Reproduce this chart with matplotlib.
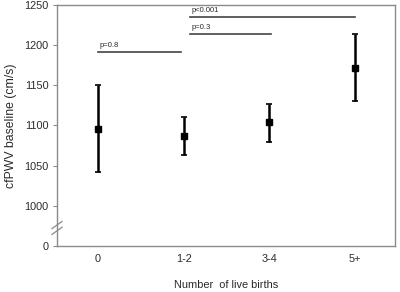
import numpy as np
import matplotlib
matplotlib.use('Agg')
import matplotlib.pyplot as plt

categorias = ['0', '1-2', '3-4', '5+']
media = [1096, 1087, 1104, 1172]
erro_sup = [1151, 1111, 1127, 1214]
erro_inf = [1042, 1063, 1080, 1131]

# comparacoes: (grupo inicial, grupo final, altura da linha, texto)
comp_ini = [0, 1, 1]
comp_fim = [1, 2, 3]
comp_y = [1191, 1214, 1235]
comp_txt = ['p=0.8', 'p=0.3', 'p<0.001']

y_ticks = [950, 1000, 1050, 1100, 1150, 1200, 1250]
y_tick_labels = ['0', '1000', '1050', '1100', '1150', '1200', '1250']

plt.rcParams['font.family'] = ['Liberation Sans', 'DejaVu Sans']
cor_texto = '#2a2a2a'
cor_borda = '#8a8a8a'

fig = plt.figure(figsize=(4, 2.92), dpi=100)
ax = fig.add_axes([0.1425, 0.1575, 0.845, 0.8255])

x = np.arange(len(categorias))
media = np.array(media)
yerr = [media - np.array(erro_inf), np.array(erro_sup) - media]
ax.errorbar(x, media, yerr=yerr, fmt='s', color='black', ms=5,
            elinewidth=1.8, capsize=2, capthick=1.2)

for i0, i1, yy, txt in zip(comp_ini, comp_fim, comp_y, comp_txt):
    xa = i0 + (0.0 if i0 == 0 else 0.07)
    xb = i1 - (0.03 if i1 == 1 else 0.0)
    if i1 == 2:
        xb = i1 + 0.02
    ax.plot([xa, xb], [yy, yy], color='#444444', lw=1.2)
    ax.text(xa + 0.02, yy + 4, txt, fontsize=5.5, color=cor_texto, va='bottom', ha='left')

ax.set_xlim(-0.48, 3.47)
ax.set_ylim(950, 1250)
ax.set_xticks(x)
ax.set_xticklabels(categorias)
ax.set_yticks(y_ticks)
ax.set_yticklabels(y_tick_labels)
ax.tick_params(axis='y', length=3, width=0.8, color=cor_borda, labelsize=7.8,
               labelcolor=cor_texto, pad=3)
ax.tick_params(axis='x', length=0, labelsize=7.8, labelcolor=cor_texto, pad=6)

for s in ax.spines.values():
    s.set_color(cor_borda)
    s.set_linewidth(1.0)

# quebra do eixo y
for dy in [-0.012, 0.012]:
    ax.plot([-0.015, 0.015], [0.075 + dy - 0.015, 0.075 + dy + 0.015], transform=ax.transAxes,
            color=cor_borda, lw=0.9, clip_on=False)

ax.set_ylabel('cfPWV baseline (cm/s)', fontsize=8.8, color=cor_texto, labelpad=5)
ax.set_xlabel('Number  of live births', fontsize=7.9, color=cor_texto, labelpad=11)

fig.savefig('out.png', dpi=100)
